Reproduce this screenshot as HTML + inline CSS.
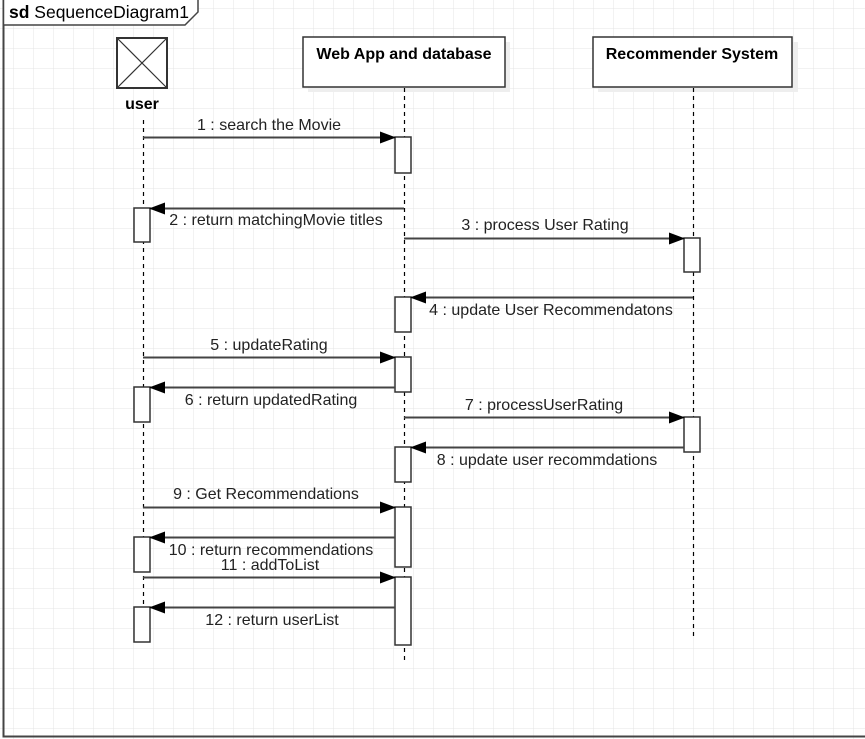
<!DOCTYPE html>
<html><head><meta charset="utf-8"><style>
html,body{margin:0;padding:0;background:#fff;}
svg{display:block;font-family:"Liberation Sans",sans-serif;}
</style></head><body>
<svg width="865" height="739" viewBox="0 0 865 739" xmlns="http://www.w3.org/2000/svg">
<defs>
<pattern id="g" x="13" y="8" width="20" height="20" patternUnits="userSpaceOnUse">
<path d="M0 0H20M0 0V20" stroke="#e4e4e4" stroke-width="1" fill="none"/>
</pattern>
<marker id="a" markerWidth="16" markerHeight="12" refX="15" refY="6" orient="auto" markerUnits="userSpaceOnUse">
<path d="M0 0L16 6L0 12Z" fill="#000"/>
</marker>
</defs>
<rect x="0" y="0" width="865" height="739" fill="url(#g)"/>
<path d="M3.5 0V736.5H865" stroke="#444" stroke-width="2" fill="none"/>
<path d="M3.5 0V25H185L198 12V0" stroke="#444" stroke-width="1.5" fill="#fff"/>
<text x="9" y="18" font-size="17.5" fill="#000"><tspan font-weight="bold">sd</tspan> SequenceDiagram1</text>
<rect x="117" y="38" width="50" height="50" fill="#fff" stroke="#333" stroke-width="2"/>
<path d="M117 38L167 88M167 38L117 88" stroke="#333" stroke-width="1.2"/>
<text x="142" y="109" font-size="16" font-weight="bold" text-anchor="middle" fill="#000">user</text>
<rect x="308" y="42" width="202" height="50" fill="#eee"/>
<rect x="303" y="37" width="202" height="50" fill="#fff" stroke="#333" stroke-width="1.5"/>
<text x="404" y="59" font-size="16" font-weight="bold" text-anchor="middle" fill="#000">Web App and database</text>
<rect x="598" y="42" width="200" height="50" fill="#eee"/>
<rect x="593" y="37" width="199" height="50" fill="#fff" stroke="#333" stroke-width="1.5"/>
<text x="692" y="59" font-size="16" font-weight="bold" text-anchor="middle" fill="#000">Recommender System</text>
<g stroke="#000" stroke-width="1.2" stroke-dasharray="4,4">
<path d="M143.5 120V640"/>
<path d="M404.5 88V662"/>
<path d="M693.5 88V638"/>
</g>
<g fill="#fff" stroke="#333" stroke-width="1.5">
<rect x="395" y="137" width="16" height="36"/>
<rect x="134" y="208" width="16" height="34"/>
<rect x="684" y="238" width="16" height="34"/>
<rect x="395" y="297" width="16" height="35"/>
<rect x="395" y="357" width="16" height="35"/>
<rect x="134" y="387" width="16" height="35"/>
<rect x="684" y="417" width="16" height="35"/>
<rect x="395" y="447" width="16" height="35"/>
<rect x="395" y="507" width="16" height="60"/>
<rect x="134" y="537" width="16" height="35"/>
<rect x="395" y="577" width="16" height="68"/>
<rect x="134" y="607" width="16" height="35"/>
</g>
<g stroke="#444" stroke-width="2" fill="none" marker-end="url(#a)">
<path d="M143 137.5H395"/>
<path d="M404 208.5H150"/>
<path d="M404 238.5H684"/>
<path d="M693 297.5H411"/>
<path d="M143 357.5H395"/>
<path d="M395 387.5H150"/>
<path d="M404 417.5H684"/>
<path d="M684 447.5H411"/>
<path d="M143 507.5H395"/>
<path d="M395 537.5H150"/>
<path d="M143 577.5H395"/>
<path d="M395 607.5H150"/>
</g>
<g font-size="16" fill="#222" text-anchor="middle">
<text x="269" y="130">1 : search the Movie</text>
<text x="276" y="225">2 : return matchingMovie titles</text>
<text x="545" y="230">3 : process User Rating</text>
<text x="551" y="315">4 : update User Recommendatons</text>
<text x="269" y="350">5 : updateRating</text>
<text x="271" y="405">6 : return updatedRating</text>
<text x="544" y="410">7 : processUserRating</text>
<text x="547" y="465">8 : update user recommdations</text>
<text x="266" y="499">9 : Get Recommendations</text>
<text x="271" y="555">10 : return recommendations</text>
<text x="270" y="570">11 : addToList</text>
<text x="272" y="625">12 : return userList</text>
</g>
</svg>
</body></html>
